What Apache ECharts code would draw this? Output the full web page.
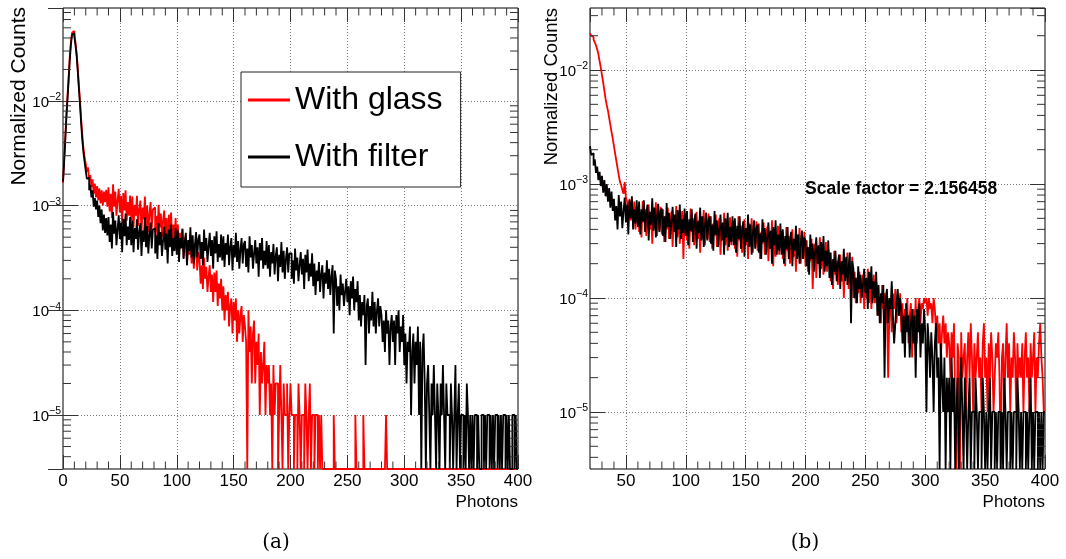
<!DOCTYPE html>
<html><head><meta charset="utf-8">
<script src="https://cdn.jsdelivr.net/npm/echarts@6/dist/echarts.min.js"></script>
<style>html,body{margin:0;padding:0;background:#fff}#c{width:1066px;height:559px}</style>
</head><body><div id="c"></div><script>
// ---------------- data (counts in units of 1e-5, one bin per photon) ----------------
const UNIT = 1e-5;
const BIN_W = 1;
const X_START_A = 0;
const X_START_B = 20;
const seriesNames = ['With glass', 'With filter'];

// (a) With glass, bins 0..400 (one row = 20 photons)
const glassA = [
  165, 270, 450, 760, 1150, 1750, 2700, 3750, 4500, 4650, 4300, 3600, 2850, 2050, 1400, 980, 660, 470, 350, 290,
  250, 210, 232, 178, 196, 150, 178, 130, 162, 120, 154, 112, 146, 105, 140, 100, 136, 108, 142, 98,
  150, 88, 130, 76, 160, 98, 136, 80, 112, 145, 86, 124, 66, 132, 90, 140, 72, 108, 80, 125,
  72, 122, 62, 102, 80, 124, 64, 92, 112, 55, 96, 74, 122, 62, 100, 56, 84, 108, 60, 92,
  96, 56, 80, 48, 102, 62, 84, 50, 72, 90, 52, 76, 40, 82, 56, 86, 44, 66, 48, 76,
  44, 66, 36, 55, 42, 60, 32, 46, 52, 27, 45, 34, 52, 28, 42, 25, 36, 44, 24, 36,
  31, 18, 27, 16, 32, 20, 26, 15, 21, 27, 15, 22, 12, 23, 15, 24, 11, 18, 13, 20,
  10, 17, 8, 14, 10, 15, 7, 11, 13, 6, 12, 8, 13, 5, 10, 6, 9, 11, 5, 9,
  7, 5, 0, 10, 4, 7, 2, 6, 8, 2, 5, 3, 6, 1, 4, 2, 3, 5, 1, 3,
  2, 3, 1, 2, 0, 3, 1, 2, 2, 0, 1, 3, 1, 0, 2, 1, 1, 2, 0, 1,
  2, 1, 1, 0, 1, 1, 0, 2, 1, 0, 1, 1, 0, 2, 1, 0, 1, 2, 0, 1,
  1, 0, 1, 1, 0, 1, 0, 1, 0, 0, 0, 0, 0, 0, 0, 0, 0, 0, 1, 0,
  0, 0, 0, 0, 0, 0, 0, 0, 0, 0, 0, 0, 0, 0, 0, 0, 0, 1, 0, 0,
  0, 0, 0, 0, 1, 0, 0, 0, 0, 0, 0, 0, 0, 0, 0, 0, 0, 0, 0, 0,
  0, 0, 0, 0, 1, 0, 0, 0, 0, 0, 0, 0, 0, 0, 0, 0, 0, 0, 0, 0,
  0, 0, 0, 0, 0, 0, 0, 0, 0, 0, 0, 0, 0, 0, 0, 0, 0, 0, 0, 0,
  0, 0, 0, 0, 0, 0, 0, 0, 0, 0, 0, 0, 0, 0, 0, 0, 0, 0, 0, 0,
  0, 0, 0, 0, 0, 0, 0, 0, 0, 0, 0, 0, 0, 0, 0, 0, 0, 0, 0, 0,
  0, 0, 0, 0, 0, 0, 0, 0, 0, 0, 0, 0, 0, 0, 0, 0, 0, 0, 0, 0,
  0, 0, 0, 0, 0, 0, 0, 0, 0, 0, 0, 0, 0, 0, 0, 0, 0, 0, 0, 0
];
// (a) With filter, bins 0..400
const filterA = [
  170, 260, 420, 700, 1050, 1600, 2500, 3500, 4300, 4450, 4100, 3400, 2700, 1900, 1300, 900, 600, 420, 320, 260,
  215, 180, 186, 140, 158, 120, 140, 98, 118, 92, 112, 78, 100, 68, 92, 58, 82, 55, 76, 52,
  78, 45, 66, 39, 87, 54, 72, 42, 60, 81, 48, 69, 36, 75, 51, 84, 42, 63, 47, 78,
  42, 72, 36, 61, 48, 74, 38, 56, 68, 33, 58, 45, 77, 40, 64, 35, 53, 69, 39, 59,
  61, 35, 52, 31, 68, 42, 56, 33, 47, 63, 38, 54, 28, 59, 40, 66, 33, 49, 37, 61,
  34, 58, 29, 49, 39, 60, 31, 45, 55, 27, 47, 37, 62, 32, 52, 28, 43, 56, 32, 48,
  53, 31, 45, 27, 59, 37, 49, 29, 41, 55, 33, 47, 25, 51, 35, 57, 29, 43, 32, 53,
  30, 51, 26, 44, 34, 53, 27, 40, 49, 24, 42, 32, 55, 29, 46, 25, 38, 49, 28, 43,
  46, 26, 39, 23, 51, 32, 42, 25, 35, 47, 28, 40, 21, 44, 30, 49, 25, 37, 27, 46,
  25, 42, 21, 36, 28, 43, 22, 33, 40, 19, 34, 26, 45, 23, 37, 20, 31, 40, 23, 35,
  35, 20, 30, 18, 39, 24, 32, 19, 27, 36, 22, 31, 16, 34, 23, 38, 19, 28, 21, 35,
  17, 28, 14, 24, 19, 29, 15, 22, 27, 13, 23, 18, 30, 16, 25, 14, 21, 27, 6, 24,
  20, 11, 17, 10, 22, 14, 18, 11, 15, 20, 12, 17, 9, 19, 13, 21, 10, 16, 12, 19,
  8, 14, 7, 12, 9, 14, 3, 11, 13, 6, 11, 8, 15, 7, 12, 6, 10, 13, 7, 11,
  9, 5, 8, 4, 10, 6, 8, 3, 7, 9, 5, 8, 3, 9, 6, 10, 4, 7, 5, 9,
  3, 6, 2, 5, 4, 7, 1, 4, 6, 2, 5, 3, 7, 1, 5, 0, 4, 6, 2, 0,
  2, 3, 1, 0, 2, 1, 3, 1, 0, 2, 1, 0, 2, 1, 3, 1, 0, 2, 1, 1,
  0, 2, 1, 0, 1, 3, 0, 1, 2, 0, 1, 1, 0, 1, 0, 2, 1, 0, 1, 0,
  1, 0, 1, 1, 0, 1, 0, 0, 1, 1, 0, 1, 0, 1, 1, 0, 1, 0, 1, 0,
  1, 1, 0, 1, 0, 1, 0, 1, 1, 0, 1, 0, 1, 0, 0, 1, 1, 0, 1, 0
];
// (b) With glass, bins 20..400
const glassB = [
  2100, 2000, 1950, 1850, 1750, 1650, 1520, 1380, 1200, 1050, 900, 780, 660, 560, 490, 440, 380, 330, 285, 250,
  215, 185, 160, 138, 120, 105, 98, 89, 82, 104, 76, 70, 58, 74, 48, 66, 44, 70, 40, 62,
  64, 38, 55, 34, 71, 46, 60, 35, 50, 66, 40, 57, 30, 62, 43, 69, 35, 52, 39, 63,
  36, 60, 31, 52, 40, 62, 33, 47, 57, 28, 50, 38, 64, 34, 54, 30, 45, 58, 22, 50,
  55, 32, 46, 27, 61, 38, 50, 29, 42, 57, 33, 48, 25, 52, 36, 59, 29, 44, 33, 55,
  31, 52, 27, 45, 35, 54, 28, 41, 50, 24, 43, 33, 56, 29, 47, 26, 39, 51, 29, 44,
  47, 27, 40, 23, 52, 32, 43, 25, 36, 49, 29, 41, 22, 45, 31, 50, 25, 38, 28, 47,
  26, 45, 22, 38, 30, 46, 24, 35, 42, 21, 36, 28, 48, 19, 40, 23, 33, 43, 24, 38,
  38, 22, 33, 19, 42, 26, 35, 20, 29, 40, 23, 33, 17, 36, 25, 41, 20, 30, 22, 38,
  19, 32, 17, 28, 21, 33, 12, 25, 30, 15, 27, 20, 34, 18, 29, 16, 24, 31, 17, 27,
  23, 14, 20, 12, 26, 16, 21, 13, 18, 24, 14, 20, 10, 22, 15, 25, 12, 19, 13, 23,
  10, 17, 9, 15, 11, 17, 9, 13, 16, 8, 14, 10, 18, 9, 15, 8, 13, 16, 9, 14,
  12, 7, 10, 6, 13, 8, 11, 6, 9, 2, 7, 10, 5, 11, 8, 12, 6, 9, 7, 11,
  5, 9, 4, 8, 6, 10, 4, 7, 9, 3, 8, 5, 10, 4, 8, 10, 6, 9, 8, 10,
  9, 10, 7, 10, 8, 9, 6, 10, 8, 5, 7, 4, 6, 3, 5, 7, 4, 6, 3, 5,
  4, 2, 5, 3, 6, 1, 0, 4, 3, 0, 5, 2, 3, 4, 1, 3, 5, 2, 6, 3,
  1, 4, 2, 3, 5, 2, 3, 1, 4, 6, 2, 3, 1, 4, 2, 5, 3, 1, 2, 4,
  3, 5, 2, 0, 3, 4, 1, 3, 6, 2, 4, 1, 3, 2, 5, 3, 1, 4, 2, 3,
  2, 4, 1, 3, 5, 2, 3, 1, 4, 2, 3, 5, 1, 3, 2, 4, 6, 3, 2, 1
];
// (b) With filter, bins 20..400
const filterB = [
  215, 180, 186, 145, 165, 125, 142, 108, 128, 96, 118, 84, 108, 78, 100, 70, 92, 62, 86, 58,
  74, 48, 64, 40, 80, 52, 70, 41, 58, 76, 46, 66, 36, 72, 50, 78, 40, 60, 45, 72,
  42, 70, 36, 60, 47, 72, 38, 55, 66, 32, 57, 44, 75, 39, 62, 34, 52, 67, 38, 58,
  61, 35, 52, 31, 68, 42, 56, 33, 47, 63, 38, 54, 28, 59, 40, 66, 33, 49, 37, 61,
  35, 58, 29, 49, 39, 60, 31, 45, 55, 27, 47, 37, 62, 32, 52, 28, 43, 56, 32, 48,
  52, 30, 44, 26, 58, 36, 48, 28, 40, 54, 32, 46, 24, 50, 34, 56, 28, 42, 31, 52,
  29, 50, 25, 43, 33, 52, 27, 39, 47, 23, 41, 31, 54, 28, 44, 24, 37, 48, 27, 41,
  44, 25, 37, 22, 49, 31, 41, 24, 34, 46, 27, 39, 20, 42, 29, 48, 24, 36, 26, 45,
  24, 40, 20, 35, 27, 42, 22, 32, 38, 19, 33, 26, 43, 22, 36, 20, 30, 39, 22, 34,
  32, 19, 28, 16, 36, 22, 30, 17, 25, 34, 20, 29, 15, 31, 21, 35, 17, 26, 19, 32,
  15, 25, 13, 22, 17, 26, 14, 20, 24, 12, 21, 16, 27, 14, 23, 13, 19, 25, 6, 21,
  18, 10, 15, 9, 19, 12, 16, 10, 13, 18, 11, 15, 8, 17, 12, 19, 9, 14, 10, 17,
  7, 13, 6, 11, 9, 13, 2, 10, 12, 6, 10, 8, 14, 7, 4, 6, 9, 12, 7, 10,
  8, 4, 7, 3, 9, 5, 7, 3, 6, 8, 4, 7, 2, 8, 5, 9, 3, 6, 4, 8,
  5, 1, 6, 4, 2, 5, 3, 1, 4, 6, 2, 3, 0, 4, 2, 1, 3, 0, 2, 1,
  2, 0, 3, 1, 2, 0, 1, 2, 0, 1, 3, 1, 0, 2, 1, 0, 1, 2, 0, 1,
  1, 0, 2, 1, 0, 1, 1, 0, 2, 1, 0, 1, 0, 1, 2, 0, 1, 1, 0, 1,
  0, 1, 1, 0, 1, 0, 2, 1, 0, 1, 1, 0, 1, 0, 1, 1, 0, 2, 1, 0,
  1, 0, 1, 1, 0, 1, 0, 1, 2, 0, 1, 0, 1, 1, 0, 1, 0, 1, 0, 1
];

// axis ranges and texts
const X_RANGE_A = [0, 400];
const X_RANGE_B = [20, 400];
const Y_RANGE_A = [3.05e-6, 0.0773];
const Y_RANGE_B = [3.16e-6, 0.035];
const yTitle = 'Normalized Counts';
const xTitle = 'Photons';
const scaleNote = 'Scale factor = 2.156458';
const captions = ['(a)', '(b)'];
const minorMantissas = [2, 3, 4, 5, 6, 7, 8, 9];
const decades = [1e-6, 1e-5, 1e-4, 1e-3, 1e-2];

// ---------------- helpers ----------------
const FONT = "'Liberation Sans', Arial, sans-serif";
const RED = '#ff0000', BLACK = '#000000';

function histPoints(start, counts, floorVal) {
  const pts = counts.map((c, i) => [start + i * BIN_W, c > 0 ? c * UNIT : floorVal]);
  pts.push([start + counts.length * BIN_W, pts[pts.length - 1][1]]);
  return pts;
}
function yMinor(range) {
  const out = [];
  decades.forEach(d => minorMantissas.forEach(m => { const v = m * d; if (v > range[0] && v < range[1]) out.push(v); }));
  return out;
}
function xMinor(range) {
  const out = [];
  for (let v = Math.ceil(range[0] / 10) * 10; v <= range[1]; v += 10) if (v % 50 !== 0 && v > range[0]) out.push(v);
  return out;
}

const gridLine = { show: true, showMinLine: false, showMaxLine: false, lineStyle: { color: '#7a7a7a', width: 1, type: [1, 2] } };
const tickStyle = { color: '#333', width: 1 };

function xAxisPair(gi, range, withInterval) {
  const common = { type: 'value', gridIndex: gi, min: range[0], max: range[1], axisLine: { show: false } };
  if (withInterval) common.interval = 50; else common.splitNumber = 8;
  return [
    Object.assign({}, common, {
      position: 'bottom',
      axisTick: { show: true, inside: true, length: 14, lineStyle: tickStyle },
      axisLabel: { show: true, margin: 4, fontSize: 17, color: '#000', fontFamily: FONT, showMinLabel: withInterval, showMaxLabel: true },
      splitLine: gridLine
    }),
    Object.assign({}, common, {
      position: 'top',
      axisTick: { show: true, inside: true, length: 14, lineStyle: tickStyle },
      axisLabel: { show: false },
      splitLine: { show: false }
    })
  ];
}
function yAxisPair(gi, range) {
  const common = { type: 'log', logBase: 10, gridIndex: gi, min: range[0], max: range[1], splitNumber: 5, axisLine: { show: false } };
  return [
    Object.assign({}, common, {
      position: 'left',
      axisTick: { show: true, inside: true, length: 15, lineStyle: tickStyle },
      axisLabel: {
        show: true, margin: 2, showMinLabel: false, showMaxLabel: false,
        formatter: v => '{b|10}{s|\u2212' + (-Math.round(Math.log10(v))) + '}',
        rich: {
          b: { fontSize: 15, fontFamily: FONT, color: '#000', lineHeight: 18, verticalAlign: 'bottom' },
          s: { fontSize: 10.5, fontFamily: FONT, color: '#000', lineHeight: 12, verticalAlign: 'top' }
        }
      },
      splitLine: gridLine
    }),
    Object.assign({}, common, {
      position: 'right',
      axisTick: { show: true, inside: true, length: 15, lineStyle: tickStyle },
      axisLabel: { show: false },
      splitLine: { show: false }
    })
  ];
}
function lineSeries(name, color, data, xi, yi, z) {
  return {
    type: 'line', name, data, xAxisIndex: xi, yAxisIndex: yi, step: 'end',
    symbol: 'none', showSymbol: false, clip: true, z,
    lineStyle: { color, width: 1.8 }, itemStyle: { color },
    animation: false, silent: true
  };
}
function minorTicks(xi, yi, xVals, yVals, xmin, ymin) {
  return [
    {
      type: 'custom', xAxisIndex: xi, yAxisIndex: yi, silent: true, animation: false, z: 6, clip: false,
      data: xVals.map(v => [v, ymin]),
      renderItem(params, api) {
        const cs = params.coordSys; const x = api.coord([api.value(0), ymin])[0];
        const b = cs.y + cs.height;
        return { type: 'group', children: [
          { type: 'line', shape: { x1: x, y1: b, x2: x, y2: b - 7.5 }, style: { stroke: '#333', lineWidth: 1 } },
          { type: 'line', shape: { x1: x, y1: cs.y, x2: x, y2: cs.y + 7.5 }, style: { stroke: '#333', lineWidth: 1 } }
        ] };
      }
    },
    {
      type: 'custom', xAxisIndex: xi, yAxisIndex: yi, silent: true, animation: false, z: 6, clip: false,
      data: yVals.map(v => [xmin, v]),
      renderItem(params, api) {
        const cs = params.coordSys; const y = api.coord([xmin, api.value(1)])[1];
        const r = cs.x + cs.width;
        return { type: 'group', children: [
          { type: 'line', shape: { x1: cs.x, y1: y, x2: cs.x + 8, y2: y }, style: { stroke: '#333', lineWidth: 1 } },
          { type: 'line', shape: { x1: r, y1: y, x2: r - 8, y2: y }, style: { stroke: '#333', lineWidth: 1 } }
        ] };
      }
    }
  ];
}

const chart = echarts.init(document.getElementById('c'), null, { renderer: 'canvas' });
const gridBase = { top: 8, height: 461, width: 455, show: true, borderColor: '#000', borderWidth: 1, backgroundColor: 'transparent', containLabel: false, outerBoundsMode: 'none' };

chart.setOption({
  animation: false,
  backgroundColor: '#fff',
  grid: [Object.assign({ left: 63 }, gridBase), Object.assign({ left: 590 }, gridBase)],
  xAxis: [].concat(xAxisPair(0, X_RANGE_A, true), xAxisPair(1, X_RANGE_B, false)),
  yAxis: [].concat(yAxisPair(0, Y_RANGE_A), yAxisPair(1, Y_RANGE_B)),
  legend: {
    data: seriesNames, orient: 'vertical', left: 241, top: 72,
    padding: [12, 18, 14, 7], itemGap: 25, itemWidth: 42, itemHeight: 3, icon: 'rect',
    backgroundColor: '#fff', borderColor: '#222', borderWidth: 1, borderRadius: 0,
    selectedMode: false, z: 10,
    textStyle: { fontSize: 32, fontFamily: FONT, color: '#000', lineHeight: 32 }
  },
  series: [
    lineSeries(seriesNames[0], RED, histPoints(X_START_A, glassA, Y_RANGE_A[0]), 0, 0, 2),
    lineSeries(seriesNames[1], BLACK, histPoints(X_START_A, filterA, Y_RANGE_A[0]), 0, 0, 3),
    lineSeries(seriesNames[0], RED, histPoints(X_START_B, glassB, Y_RANGE_B[0]), 2, 2, 2),
    lineSeries(seriesNames[1], BLACK, histPoints(X_START_B, filterB, Y_RANGE_B[0]), 2, 2, 3)
  ].concat(
    minorTicks(0, 0, xMinor(X_RANGE_A), yMinor(Y_RANGE_A), X_RANGE_A[0], Y_RANGE_A[0]),
    minorTicks(2, 2, xMinor(X_RANGE_B), yMinor(Y_RANGE_B), X_RANGE_B[0], Y_RANGE_B[0])
  ),
  graphic: [
    { type: 'text', x: 19.5, y: 7, rotation: Math.PI / 2, style: { text: yTitle, font: '21px ' + FONT, align: 'right', verticalAlign: 'middle', fill: '#000' } },
    { type: 'text', x: 552, y: 8, rotation: Math.PI / 2, style: { text: yTitle, font: '18.5px ' + FONT, align: 'right', verticalAlign: 'middle', fill: '#000' } },
    { type: 'text', x: 518, y: 502, style: { text: xTitle, font: '17px ' + FONT, align: 'right', verticalAlign: 'middle', fill: '#000' } },
    { type: 'text', x: 1045, y: 502, style: { text: xTitle, font: '17px ' + FONT, align: 'right', verticalAlign: 'middle', fill: '#000' } },
    { type: 'text', x: 805, y: 189, z: 10, style: { text: scaleNote, font: 'bold 17.5px ' + FONT, align: 'left', verticalAlign: 'middle', fill: '#000' } },
    { type: 'text', x: 276, y: 543, style: { text: captions[0], font: "20px 'DejaVu Serif', serif", align: 'center', verticalAlign: 'middle', fill: '#000' } },
    { type: 'text', x: 805, y: 543, style: { text: captions[1], font: "20px 'DejaVu Serif', serif", align: 'center', verticalAlign: 'middle', fill: '#000' } }
  ]
});
</script></body></html>
